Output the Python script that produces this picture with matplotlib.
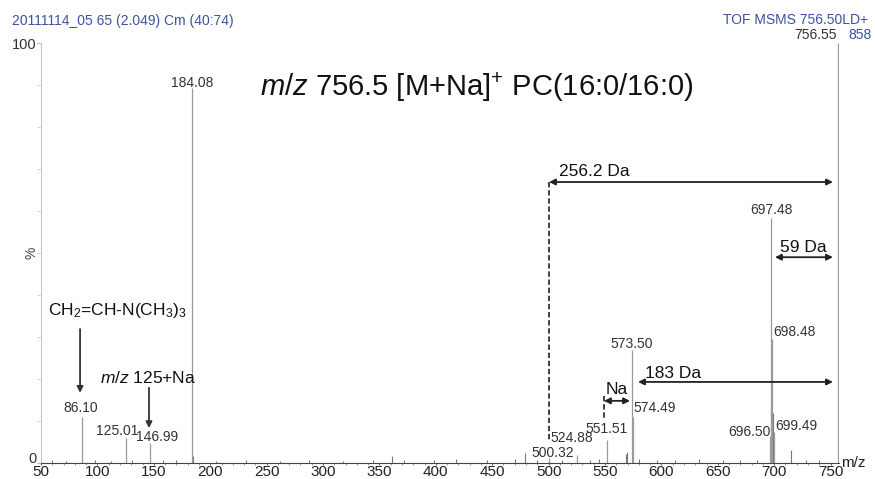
import matplotlib
matplotlib.use("Agg")
import matplotlib.pyplot as plt
from matplotlib.ticker import FixedLocator, MultipleLocator

plt.rcParams['font.family'] = ['Liberation Sans', 'DejaVu Sans']
plt.rcParams['mathtext.fontset'] = 'custom'
plt.rcParams['mathtext.rm'] = 'Liberation Sans'
plt.rcParams['mathtext.it'] = 'Liberation Sans:italic'

# labelled peaks (m/z, relative intensity %)
peak_mz = [86.10, 125.01, 146.99, 184.08, 500.32, 524.88, 551.51, 573.50,
           574.49, 696.50, 697.48, 698.48, 699.49, 756.55]
peak_int = [11.0, 6.0, 4.8, 89.3, 1.2, 1.8, 5.5, 26.8,
            11.0, 6.5, 58.3, 29.5, 7.5, 100.0]
peak_lbl = ['86.10', '125.01', '146.99', '184.08', '500.32', '524.88', '551.51',
            '573.50', '574.49', '696.50', '697.48', '698.48', '699.49', '756.55']
# where each label sits (m/z, %)
lbl_x = [85.5, 117.4, 153.3, 184.0, 503.9, 520.7, 551.3, 573.9,
         593.9, 677.7, 698.0, 718.4, 719.3, 736.2]
lbl_y = [13.1, 7.6, 6.2, 90.5, 2.4, 6.0, 8.1, 28.3,
         13.1, 7.4, 60.2, 31.2, 8.8, 101.9]

# small unlabelled peaks and baseline noise
minor_mz = [60, 72, 98, 112, 131, 158, 170, 185.1, 205, 232, 262, 288, 318,
            344, 361, 372, 398, 418, 445, 470, 479, 490, 512, 537, 545, 568.5,
            569.5, 580, 596, 612, 633, 655, 670, 685, 697.0, 698.9, 714.9,
            728, 740, 757.55]
minor_int = [0.8, 0.5, 0.6, 0.5, 0.7, 0.6, 0.8, 1.6, 0.5, 0.6, 0.5, 0.6, 0.5,
             0.7, 1.6, 0.6, 0.7, 1.0, 0.8, 0.9, 2.4, 0.7, 0.8, 0.6, 0.9, 2.2,
             2.6, 0.9, 0.7, 0.8, 0.9, 0.7, 0.6, 0.8, 13.0, 12.0, 3.1,
             0.8, 0.7, 24.5]

xticks = [50, 100, 150, 200, 250, 300, 350, 400, 450, 500, 550, 600, 650, 700, 750]

fig = plt.figure(figsize=(8.75, 4.79), dpi=100)
ax = fig.add_axes([0.0469, 0.0334, 0.912, 0.8768])

ax.vlines(minor_mz, 0, minor_int, color='#777777', lw=0.8)
ax.vlines(peak_mz, 0, peak_int, color='#9a9a9a', lw=0.9)
for x, y, s in zip(lbl_x, lbl_y, peak_lbl):
    ax.text(x, y, s, ha='center', va='center', fontsize=10, color='#333333',
            clip_on=False)

ax.set_xlim(50, 757.5)
ax.set_ylim(0, 100)
for side in ['top', 'right']:
    ax.spines[side].set_visible(False)
ax.spines['left'].set_color('#c8c8c8')
ax.spines['bottom'].set_color('#444444')
ax.spines['bottom'].set_linewidth(0.8)

ax.xaxis.set_major_locator(FixedLocator(xticks))
ax.xaxis.set_minor_locator(MultipleLocator(10))
ax.tick_params(axis='x', which='major', length=1.5, color='#666666', labelsize=11,
               labelcolor='#222222', pad=0)
ax.tick_params(axis='x', which='minor', length=1.5, color='#888888')
ax.yaxis.set_major_locator(FixedLocator([0, 100]))
ax.yaxis.set_minor_locator(MultipleLocator(10))
ax.tick_params(axis='y', which='major', length=3, color='#bbbbbb', labelsize=10.5,
               labelcolor='#333333', pad=0.5)
ax.tick_params(axis='y', which='minor', length=3, color='#cccccc')
ax.get_yticklabels()[0].set_va('baseline')

ax.text(-0.003, 0.5, '%', transform=ax.transAxes, rotation=90, ha='right',
        va='center', fontsize=10, color='#444444')
ax.text(1.003, 0.0, 'm/z', transform=ax.transAxes, ha='left', va='center',
        fontsize=11, color='#222222')

# header lines
fig.text(12 / 875, 1 - 21 / 479, '20111114_05 65 (2.049) Cm (40:74)',
         ha='left', va='center', fontsize=10, color='#3d52a1')
fig.text(868 / 875, 1 - 20 / 479, 'TOF MSMS 756.50LD+', ha='right',
         va='center', fontsize=10, color='#3d52a1')
fig.text(860 / 875, 1 - 35 / 479, '858', ha='center', va='center',
         fontsize=10, color='#3d52a1')

# title
ax.text(436.5, 89.5, r'$m/z$ 756.5 [M+Na]$^{+}$ PC(16:0/16:0)', ha='center',
        va='center', fontsize=21, color='#111111')

arrow_kw = dict(arrowstyle='<|-|>', color='#222222', lw=1.3,
                mutation_scale=9, shrinkA=0, shrinkB=0)
down_kw = dict(arrowstyle='-|>', color='#333333', lw=1.3,
               mutation_scale=9, shrinkA=0, shrinkB=0)

# 256.2 Da
ax.annotate('', xy=(752.1, 66.9), xytext=(500.4, 66.9), arrowprops=arrow_kw)
ax.plot([500.4, 500.4], [66.9, 5.5], ls='--', color='#333333', lw=1.3,
        dashes=(3, 1.5))
ax.text(540.2, 69.3, '256.2 Da', ha='center', va='center', fontsize=12.5,
        color='#111111')

# 59 Da
ax.annotate('', xy=(752.1, 49.0), xytext=(700.7, 49.0), arrowprops=arrow_kw)
ax.text(725.5, 51.4, '59 Da', ha='center', va='center', fontsize=12.5,
        color='#111111')

# 183 Da
ax.annotate('', xy=(752.1, 19.3), xytext=(579.3, 19.3), arrowprops=arrow_kw)
ax.text(610.3, 21.4, '183 Da', ha='center', va='center', fontsize=12.5,
        color='#111111')

# Na
ax.annotate('', xy=(572.2, 14.8), xytext=(549.1, 14.8), arrowprops=arrow_kw)
ax.plot([549.1, 549.1], [16.0, 10.5], ls='--', color='#333333', lw=1.3,
        dashes=(3, 1.5))
ax.text(560.6, 17.6, 'Na', ha='center', va='center', fontsize=12.5,
        color='#111111')

# fragment annotations
ax.text(56.2, 36.4, r'CH$_2$=CH-N(CH$_3$)$_3$', ha='left', va='center',
        fontsize=12.5, color='#111111')
ax.annotate('', xy=(84.6, 16.7), xytext=(84.6, 31.9), arrowprops=down_kw)
ax.text(102.3, 20.2, r'$m/z$ 125+Na', ha='left', va='center', fontsize=12.5,
        color='#111111')
ax.annotate('', xy=(145.7, 8.3), xytext=(145.7, 17.9), arrowprops=down_kw)

fig.savefig('out.png', dpi=100, facecolor='white')
